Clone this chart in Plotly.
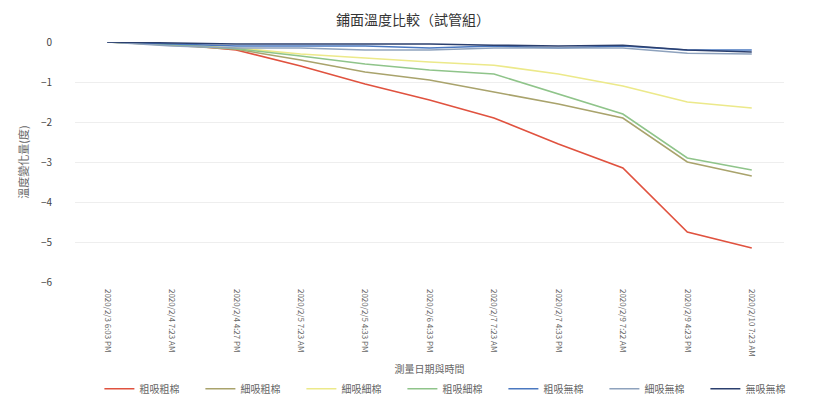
import plotly.graph_objects as go

# Measurement times (category axis)
times = [
    "2020/2/3 6:03 PM", "2020/2/4 7:23 AM", "2020/2/4 4:27 PM",
    "2020/2/5 7:23 AM", "2020/2/5 4:33 PM", "2020/2/6 4:33 PM",
    "2020/2/7 7:23 AM", "2020/2/7 4:33 PM", "2020/2/9 7:22 AM",
    "2020/2/9 4:23 PM", "2020/2/10 7:23 AM",
]

# Temperature change for each test-tube group
coarse_coarse = [0, -0.05, -0.2, -0.6, -1.05, -1.45, -1.9, -2.55, -3.15, -4.75, -5.15]
fine_coarse = [0, -0.08, -0.18, -0.45, -0.75, -0.95, -1.25, -1.55, -1.9, -3.0, -3.35]
fine_fine = [0, -0.06, -0.15, -0.3, -0.4, -0.5, -0.58, -0.8, -1.1, -1.5, -1.65]
coarse_fine = [0, -0.07, -0.17, -0.35, -0.55, -0.7, -0.8, -1.3, -1.8, -2.9, -3.2]
coarse_none = [0, -0.05, -0.1, -0.1, -0.1, -0.15, -0.1, -0.15, -0.1, -0.2, -0.2]
fine_none = [0, -0.1, -0.15, -0.15, -0.2, -0.2, -0.15, -0.15, -0.15, -0.28, -0.3]
none_none = [0, -0.03, -0.05, -0.05, -0.05, -0.05, -0.08, -0.1, -0.08, -0.2, -0.25]

series_names = ["粗吸粗棉", "細吸粗棉", "細吸細棉", "粗吸細棉", "粗吸無棉", "細吸無棉", "無吸無棉"]
series_values = [coarse_coarse, fine_coarse, fine_fine, coarse_fine, coarse_none, fine_none, none_none]
series_colors = ["#e0523f", "#a9a36c", "#ece98a", "#8fc48a", "#4a78c0", "#8ea2bd", "#2b3f6e"]

font_family = "Noto Sans CJK TC, Noto Sans, sans-serif"

fig = go.Figure()
for name, vals, color in zip(series_names, series_values, series_colors):
    fig.add_trace(go.Scatter(
        x=times, y=vals, name=name, mode="lines",
        line=dict(color=color, width=1.6),
    ))

fig.update_layout(
    width=826, height=409,
    margin=dict(l=75, r=42, t=42, b=127, autoexpand=False),
    paper_bgcolor="white", plot_bgcolor="white",
    font=dict(family=font_family, color="#555555"),
    title=dict(text="鋪面溫度比較（試管組）", x=0.5, xanchor="center", y=0.95,
               yanchor="middle", font=dict(size=14, color="#333333")),
    showlegend=True,
    legend=dict(orientation="h", x=0.533, xanchor="center", y=-0.445, yanchor="middle",
                font=dict(size=10, color="#666666"), itemwidth=30,
                entrywidth=56, entrywidthmode="pixels",
                traceorder="normal"),
)
fig.update_xaxes(
    type="category", range=[-0.5, 10.5], tickangle=90,
    tickfont=dict(size=8, color="#666666"), showgrid=False, showline=False,
    ticks="", ticklabelstandoff=6,
    title=dict(text="測量日期與時間", font=dict(size=10, color="#666666"),
               standoff=10),
)
fig.update_yaxes(
    range=[-6, 0], dtick=1, tickformat="d",
    tickfont=dict(size=10, color="#444444"), showgrid=True, gridcolor="#eeeeee",
    zeroline=False, showline=False, ticks="", ticklabelstandoff=22,
    title=dict(text="溫度變化量(度)", font=dict(size=11, color="#666666"), standoff=10),
)

fig.write_html("out.html")
